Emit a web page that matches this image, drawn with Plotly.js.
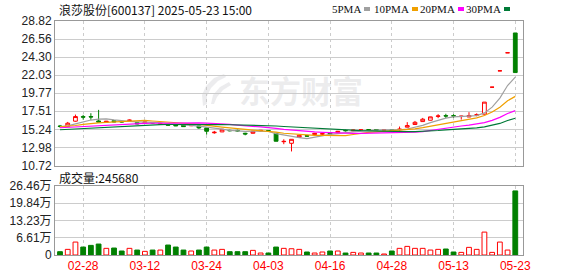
<!DOCTYPE html>
<html><head><meta charset="utf-8">
<script src="https://cdn.plot.ly/plotly-3.0.1.min.js"></script>
<style>html,body{margin:0;padding:0;background:#fff}#c{width:578px;height:276px}</style>
</head><body><div id="c"></div>
<script>
const dates = ['02-25','02-26','02-27','02-28','03-03','03-04','03-05','03-06','03-07','03-10',
'03-11','03-12','03-13','03-14','03-17','03-18','03-19','03-20','03-21','03-24',
'03-25','03-26','03-27','03-28','03-31','04-01','04-02','04-03','04-07','04-08',
'04-09','04-10','04-11','04-14','04-15','04-16','04-17','04-18','04-21','04-22',
'04-23','04-24','04-25','04-28','04-29','04-30','05-06','05-07','05-08','05-09',
'05-12','05-13','05-14','05-15','05-16','05-19','05-20','05-21','05-22','05-23'];
const opens = [15.66,15.62,16.27,16.84,16.85,16.30,16.12,16.33,16.22,16.36,
16.09,16.02,16.10,15.90,15.93,15.84,15.76,15.70,15.68,15.43,
14.82,14.93,15.12,15.12,14.76,14.76,15.05,15.10,14.76,13.70,
13.50,14.26,14.45,14.59,14.65,14.84,14.84,15.10,15.05,15.14,
15.22,15.22,15.17,15.20,15.20,15.52,15.86,16.22,16.39,16.88,
16.96,16.96,16.85,16.80,17.03,17.15,20.53,22.58,24.84,27.32];
const highs = [15.80,16.18,17.10,17.06,17.27,17.69,16.30,16.38,16.30,16.48,
16.12,16.22,16.15,16.05,15.98,15.88,15.80,15.80,15.72,15.45,
15.05,15.30,15.20,15.20,14.82,15.05,15.15,15.15,14.80,14.00,
14.02,14.55,14.55,14.80,14.80,14.90,15.05,15.20,15.20,15.25,
15.28,15.26,15.24,15.25,15.60,16.15,16.30,16.68,16.83,17.15,
17.20,17.15,16.95,17.40,17.25,18.66,20.53,22.58,24.84,27.32];
const lows = [15.45,15.55,16.20,16.47,16.43,16.14,16.05,16.12,16.10,16.30,
15.88,15.98,16.00,15.85,15.70,15.65,15.55,15.65,15.30,14.59,
14.70,14.90,15.00,14.95,14.50,14.72,15.00,15.00,13.74,13.39,
12.48,14.20,14.30,14.55,14.55,14.65,14.80,14.98,15.00,15.10,
15.12,15.14,15.12,15.05,15.05,15.50,15.84,16.20,16.37,16.65,
16.65,16.68,16.47,16.78,16.88,17.10,20.53,22.58,24.84,22.36];
const closes = [15.62,16.02,16.85,16.78,16.80,16.16,16.26,16.18,16.18,16.40,
15.93,16.18,16.05,15.95,15.76,15.68,15.59,15.76,15.43,15.01,
14.88,15.26,15.08,15.05,14.67,15.01,15.12,15.05,13.76,13.74,
14.00,14.51,14.40,14.76,14.70,14.68,15.01,15.08,15.15,15.18,
15.18,15.18,15.19,15.10,15.27,15.72,16.13,16.52,16.81,16.92,
16.92,16.92,16.90,16.98,17.08,18.66,20.53,22.58,24.84,22.36];
const volumes = [12700,21600,49600,30500,36900,42000,25500,26700,15300,25500,
19000,14000,19000,19000,38200,30500,19000,15300,19000,30500,
19000,21600,12700,12700,12700,17800,7600,7600,30500,25500,
24000,21600,11500,7600,11500,15300,15300,7600,10000,7600,
7600,7600,3800,15300,25500,33000,25500,25500,19000,21600,
23000,11500,10000,29300,21600,87800,10000,49600,19000,245680];
// closes before the visible window, estimated so the moving averages start at the drawn levels
const priorCloses = [14.52,14.60,14.48,14.65,14.70,14.78,14.72,14.85,14.80,14.90,
15.05,15.20,15.30,15.25,15.40,15.45,15.38,15.50,15.45,15.52,
15.48,15.55,15.50,15.45,15.52,15.60,15.55,15.62,15.59];
const priceTicks = [10.72,12.98,15.24,17.51,19.77,22.03,24.30,26.56,28.82];
const volTicks = [0,66150,132300,198450,264600];
const volTickText = ['0','6.61万','13.23万','19.84万','26.46万'];
const xTickIdx = [3,11,19,27,35,43,51,59];
const maPeriods = [5,10,20,30];
const maNames = ['5PMA','10PMA','20PMA','30PMA'];
const maColors = ['#a0a0a0','#f0a000','#ff00ff','#007a37'];

const idx = dates.map((d,i)=>i);
const all = priorCloses.concat(closes);
const off = priorCloses.length;
function ma(n){return closes.map((c,i)=>{let s=0;for(let k=0;k<n;k++)s+=all[off+i-k];return s/n;});}
const up = closes.map((c,i)=> c>opens[i] || (c===opens[i] && c>=(i>0?closes[i-1]:c)));
const RED='#ff0000', GREEN='#008000';
const traces = [];
maPeriods.forEach((n,k)=>traces.push({type:'scatter',mode:'lines',x:idx,y:ma(n),xaxis:'x',yaxis:'y',
  line:{color:maColors[k],width:1.2},hoverinfo:'skip'}));
traces.push({type:'candlestick',x:idx,open:opens,high:highs,low:lows,close:closes,xaxis:'x',yaxis:'y',
  increasing:{line:{color:RED,width:1},fillcolor:'#ffffff'},
  decreasing:{line:{color:GREEN,width:1},fillcolor:GREEN},whiskerwidth:0,hoverinfo:'skip'});
traces.push({type:'bar',x:idx,y:volumes,xaxis:'x2',yaxis:'y2',width:0.62,
  marker:{color:up.map(u=>u?'#ffffff':GREEN),line:{color:up.map(u=>u?RED:GREEN),width:1}},hoverinfo:'skip'});

const W=578,H=276,L=55,R=55,T=21,B=21;
const pw=W-L-R, ph=H-T-B;
const px=x=>(x-L)/pw, py=y=>(H-B-y)/ph;
const tickFont={family:'Liberation Sans, Arial, Noto Sans CJK SC',size:12,color:'#222'};
const gx={showgrid:true,gridcolor:'#cccccc',griddash:'3px,3px',gridwidth:1,showline:true,mirror:true,
  linecolor:'#999999',linewidth:1,zeroline:false,ticks:'',range:[-0.65,60],tickvals:xTickIdx,
  ticktext:xTickIdx.map(i=>dates[i]),fixedrange:true};
const ann=[];
const cjk='Noto Sans CJK SC';
ann.push({xref:'paper',yref:'paper',x:px(57),y:py(10),xanchor:'left',yanchor:'middle',showarrow:false,
  text:'浪莎股份[600137] 2025-05-23 15:00',font:{family:cjk,size:12,color:'#111'}});
ann.push({xref:'paper',yref:'paper',x:px(57),y:py(177),xanchor:'left',yanchor:'middle',showarrow:false,
  text:'成交量:245680',font:{family:cjk,size:12,color:'#111'}});
const legSq=[367,415,461,507];
const shapes=[];
maNames.forEach((nm,k)=>{
  ann.push({xref:'paper',yref:'paper',x:px(legSq[k]-4),y:py(9),xanchor:'right',yanchor:'middle',showarrow:false,
    text:nm,font:{family:'Liberation Serif, serif',size:11,color:'#111'}});
  shapes.push({type:'rect',xref:'paper',yref:'paper',x0:px(legSq[k]-3),x1:px(legSq[k]+3),y0:py(11),y1:py(7),
    fillcolor:maColors[k],line:{width:0}});
});
// watermark logo and name
const wm='rgba(200,200,205,0.35)';
function pth(pts){return 'M '+pts.map(p=>px(p[0])+','+py(p[1])).join(' L ')+' Z';}
shapes.push({type:'path',xref:'paper',yref:'paper',layer:'below',fillcolor:wm,line:{width:0},
  path:pth([[224,74],[214,78],[206,86],[202,95],[203,106],[207,104],[207,96],[211,88],[218,81],[226,77]])});
shapes.push({type:'path',xref:'paper',yref:'paper',layer:'below',fillcolor:wm,line:{width:0},
  path:pth([[229,82],[220,87],[213,95],[211,104],[214,104],[217,97],[223,90],[231,85]])});
ann.push({xref:'paper',yref:'paper',x:px(237),y:py(90),xanchor:'left',yanchor:'middle',showarrow:false,
  text:'<b>东方财富</b>',font:{family:cjk,size:31,color:wm}});

const layout={width:W,height:H,margin:{l:L,r:R,t:T,b:B,pad:0},paper_bgcolor:'#fff',plot_bgcolor:'#fff',
  showlegend:false,dragmode:false,annotations:ann,shapes:shapes,
  xaxis:Object.assign({},gx,{anchor:'y',showticklabels:false,rangeslider:{visible:false}}),
  xaxis2:Object.assign({},gx,{anchor:'y2',showticklabels:true,tickfont:{family:'Liberation Sans, Arial',size:12,color:'#ff0000'}}),
  yaxis:{domain:[py(165.5),1],range:[10.72,28.82],tickvals:priceTicks,ticktext:priceTicks.map(v=>v.toFixed(2)),
    showgrid:true,gridcolor:'#cccccc',gridwidth:1,showline:true,mirror:true,linecolor:'#999999',zeroline:false,
    ticks:'',tickfont:tickFont,fixedrange:true},
  yaxis2:{domain:[0,py(186)],range:[0,264600],tickvals:volTicks,ticktext:volTickText,
    showgrid:true,gridcolor:'#cccccc',gridwidth:1,showline:true,mirror:true,linecolor:'#999999',zeroline:false,
    ticks:'',tickfont:tickFont,fixedrange:true}
};
Plotly.newPlot('c',traces,layout,{staticPlot:true,displayModeBar:false});
</script></body></html>
